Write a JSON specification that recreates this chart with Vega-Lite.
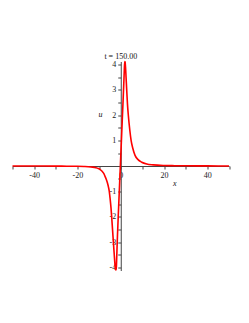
{
  "$schema": "https://vega.github.io/schema/vega-lite/v6.json",
  "width": 216.5,
  "height": 209,
  "autosize": {"type": "none"},
  "padding": {"left": 12.5, "top": 61.5, "right": 20, "bottom": 52.5},
  "background": "white",
  "title": {"text": "t = 150.00", "font": "Liberation Serif", "fontSize": 8, "fontWeight": "normal", "color": "#111", "offset": -3, "anchor": "middle"},
  "config": {"view": {"stroke": null}},
  "data": {"values": [
    {"x": -50, "u": -0.001}, {"x": -40, "u": -0.002}, {"x": -30, "u": -0.004}, {"x": -25, "u": -0.007},
    {"x": -20, "u": -0.012}, {"x": -17, "u": -0.02}, {"x": -15, "u": -0.028}, {"x": -13, "u": -0.045},
    {"x": -11.5, "u": -0.07}, {"x": -10.4, "u": -0.1}, {"x": -9.5, "u": -0.14}, {"x": -8.5, "u": -0.22},
    {"x": -7.8, "u": -0.3}, {"x": -7.3, "u": -0.4}, {"x": -6.7, "u": -0.52}, {"x": -6.2, "u": -0.65},
    {"x": -5.7, "u": -0.82}, {"x": -5.3, "u": -1.0}, {"x": -4.9, "u": -1.3}, {"x": -4.5, "u": -1.65},
    {"x": -4.2, "u": -2.0}, {"x": -3.8, "u": -2.5}, {"x": -3.4, "u": -3.0}, {"x": -3.0, "u": -3.5},
    {"x": -2.7, "u": -3.85}, {"x": -2.45, "u": -4.05}, {"x": -2.2, "u": -4.1}, {"x": -2.0, "u": -3.95},
    {"x": -1.8, "u": -3.45}, {"x": -1.5, "u": -2.7}, {"x": -1.0, "u": -1.66}, {"x": -0.5, "u": -0.64},
    {"x": 0, "u": 0.38}, {"x": 0.5, "u": 1.4}, {"x": 1.0, "u": 2.42}, {"x": 1.4, "u": 3.25},
    {"x": 1.65, "u": 3.8}, {"x": 1.85, "u": 4.12}, {"x": 2.0, "u": 4.1}, {"x": 2.2, "u": 3.9},
    {"x": 2.45, "u": 3.5}, {"x": 2.75, "u": 3.0}, {"x": 3.1, "u": 2.45}, {"x": 3.5, "u": 2.0},
    {"x": 4.2, "u": 1.4}, {"x": 4.8, "u": 1.0}, {"x": 5.5, "u": 0.72}, {"x": 6.6, "u": 0.42},
    {"x": 8, "u": 0.25}, {"x": 9.7, "u": 0.15}, {"x": 12, "u": 0.08}, {"x": 15, "u": 0.045},
    {"x": 20, "u": 0.02}, {"x": 25, "u": 0.012}, {"x": 30, "u": 0.007}, {"x": 40, "u": 0.003},
    {"x": 50, "u": 0.002}
  ]},
  "mark": {"type": "line", "color": "#ff0000", "strokeWidth": 1.6, "interpolate": "monotone", "clip": false},
  "encoding": {
    "x": {
      "field": "x", "type": "quantitative",
      "scale": {"domain": [-50, 50], "nice": false, "zero": false},
      "axis": {
        "title": "x", "titleFont": "Liberation Serif", "titleFontStyle": "italic", "titleFontWeight": "normal",
        "titleFontSize": 8, "titleColor": "#111", "titleX": 161.8, "titleY": 17.3, "titleBaseline": "middle", "titleAlign": "center",
        "offset": -104.5, "grid": false,
        "values": [-50, -40, -30, -20, -10, 0, 10, 20, 30, 40, 50],
        "labelExpr": "datum.value % 20 === 0 ? '' + datum.value : ''",
        "labelFont": "Liberation Serif", "labelFontSize": 8, "labelColor": "#222", "labelPadding": 2,
        "domainColor": "#444", "tickColor": "#444", "tickSize": 3, "labelFlush": false
      }
    },
    "y": {
      "field": "u", "type": "quantitative",
      "scale": {"domain": [-4.12, 4.12], "nice": false, "zero": false},
      "axis": {
        "title": "u", "titleFont": "Liberation Serif", "titleFontStyle": "italic", "titleFontWeight": "normal",
        "titleFontSize": 8, "titleColor": "#111", "titleAngle": 0, "titleX": -20.7, "titleY": 52.5, "titleBaseline": "middle", "titleAlign": "center",
        "offset": -108.25, "grid": false,
        "values": [-4, -3.5, -3, -2.5, -2, -1.5, -1, -0.5, 0.5, 1, 1.5, 2, 2.5, 3, 3.5, 4],
        "labelExpr": "datum.value % 1 === 0 ? '' + datum.value : ''",
        "labelFont": "Liberation Serif", "labelFontSize": 8, "labelColor": "#222", "labelPadding": 2,
        "domainColor": "#444", "tickColor": "#444", "tickSize": 3, "labelFlush": false
      }
    }
  }
}
